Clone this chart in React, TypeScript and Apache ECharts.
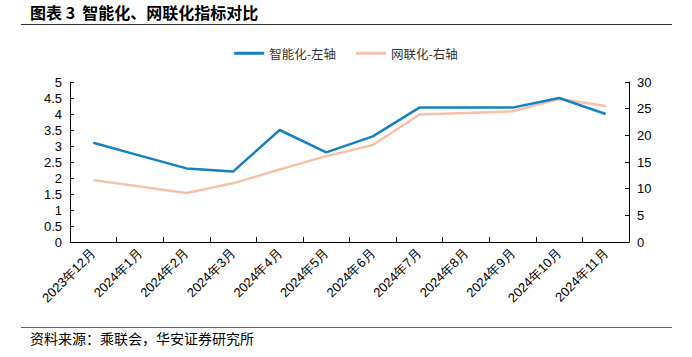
import React, { useEffect, useRef } from "react";
import * as echarts from "echarts";

const categories = [
  "2023年12月", "2024年1月", "2024年2月", "2024年3月", "2024年4月", "2024年5月",
  "2024年6月", "2024年7月", "2024年8月", "2024年9月", "2024年10月", "2024年11月",
];
const intelligent = [3.1, 2.7, 2.3, 2.2, 3.5, 2.8, 3.3, 4.2, 4.2, 4.2, 4.5, 4.0];
const connected = [11.6, 10.4, 9.2, 11.0, 13.6, 16.1, 18.2, 23.9, 24.2, 24.5, 26.8, 25.5];
const seriesNames = ["智能化-左轴", "网联化-右轴"];
const title = "图表 3  智能化、网联化指标对比";
const source = "资料来源：乘联会，华安证券研究所";

const FONT = "'Noto Sans CJK SC', sans-serif";
const NUMFONT = "'Liberation Sans', Arial, sans-serif";

export default function App() {
  const ref = useRef<HTMLDivElement>(null);
  useEffect(() => {
    if (!ref.current) return;
    const chart = echarts.init(ref.current, null, { renderer: "svg" });
    const axisLine = { show: true, lineStyle: { color: "#000", width: 1 } };
    chart.setOption({
      animation: false,
      backgroundColor: "#fff",
      graphic: [
        { type: "text", left: 30, top: 4, style: { text: title, font: `bold 16px ${FONT}`, fill: "#000" } },
        { type: "line", shape: { x1: 21, y1: 24.5, x2: 672, y2: 24.5 }, style: { stroke: "#333", lineWidth: 1 } },
        { type: "line", shape: { x1: 21, y1: 327.5, x2: 672, y2: 327.5 }, style: { stroke: "#666", lineWidth: 1 } },
        { type: "text", left: 30, top: 331, style: { text: source, font: `14px ${FONT}`, fill: "#000" } },
      ],
      legend: {
        top: 42,
        left: "center",
        itemWidth: 30,
        itemHeight: 3,
        itemGap: 20,
        icon: "rect",
        textStyle: { fontFamily: FONT, fontSize: 12.5, color: "#333" },
        data: seriesNames,
      },
      grid: { left: 70, right: 63, top: 82, bottom: 115, containLabel: false },
      xAxis: {
        type: "category",
        data: categories,
        boundaryGap: true,
        axisLine,
        axisTick: { show: true, inside: true, length: 5, lineStyle: { color: "#000" } },
        axisLabel: { rotate: 45, interval: 0, fontFamily: NUMFONT, fontSize: 13, color: "#000", margin: 9 },
      },
      yAxis: [
        {
          type: "value", min: 0, max: 5, interval: 0.5,
          axisLine,
          axisTick: { show: true, inside: true, length: 4, lineStyle: { color: "#000" } },
          splitLine: { show: false },
          axisLabel: { fontFamily: NUMFONT, fontSize: 13, color: "#000", margin: 8 },
        },
        {
          type: "value", min: 0, max: 30, interval: 5,
          axisLine,
          axisTick: { show: true, inside: true, length: 4, lineStyle: { color: "#000" } },
          splitLine: { show: false },
          axisLabel: { fontFamily: NUMFONT, fontSize: 13, color: "#000", margin: 8 },
        },
      ],
      series: [
        {
          name: seriesNames[0], type: "line", data: intelligent, yAxisIndex: 0,
          symbol: "none", z: 3,
          lineStyle: { color: "#1481c0", width: 2.5 }, itemStyle: { color: "#1481c0" },
        },
        {
          name: seriesNames[1], type: "line", data: connected, yAxisIndex: 1,
          symbol: "none", z: 2,
          lineStyle: { color: "#f6c1ab", width: 2.5 }, itemStyle: { color: "#f6c1ab" },
        },
      ],
    });
    return () => chart.dispose();
  }, []);
  return <div ref={ref} style={{ width: 692, height: 357, position: "absolute", left: 0, top: 0 }} />;
}
